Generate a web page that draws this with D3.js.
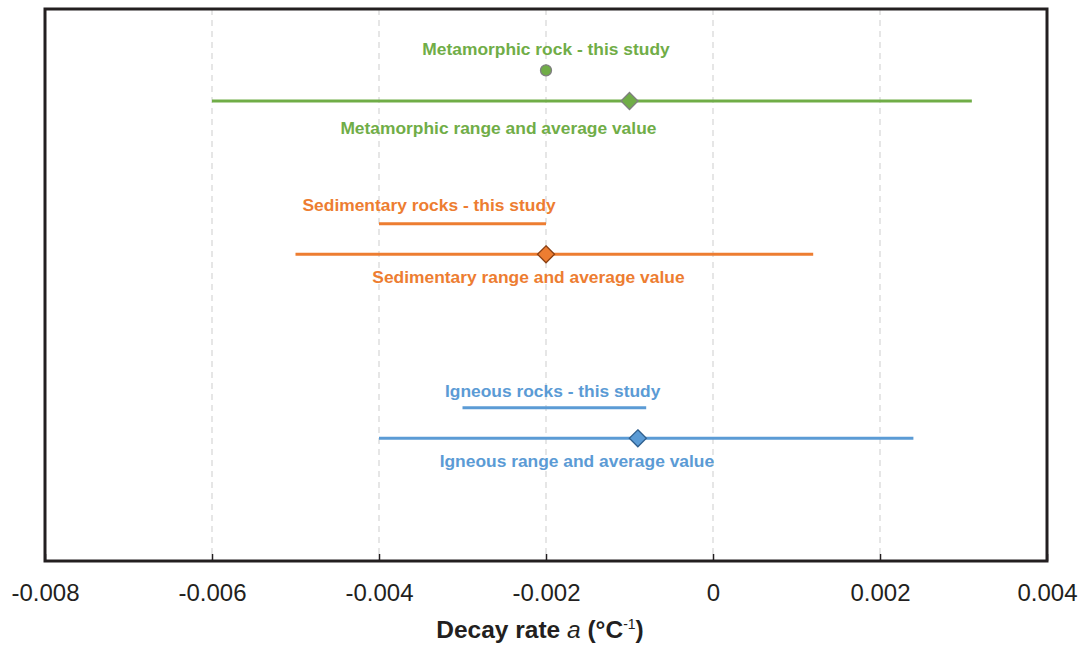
<!DOCTYPE html>
<html>
<head>
<meta charset="utf-8">
<script src="https://cdn.jsdelivr.net/npm/d3@7"></script>
<style>
  html, body { margin: 0; padding: 0; background: #fff; }
  svg { display: block; font-family: "Liberation Sans", Arial, sans-serif; }
</style>
</head>
<body>
<svg id="chart" width="1078" height="646"></svg>
<script>
// ---- data ----
const groups = ["Metamorphic", "Sedimentary", "Igneous"];
const colors = ["#70ad47", "#ed7d31", "#5b9bd5"];
const markerStroke = ["#7f7f7f", "#8a3f12", "#2f5f8e"];
// range of literature values (min, max) and average
const rangeMin = [-0.006, -0.005, -0.004];
const rangeMax = [0.0031, 0.0012, 0.0024];
const rangeAvg = [-0.001, -0.002, -0.0009];
const rangeRow = [7.5, 5, 2];
// this study (min, max); metamorphic is a single point
const studyMin = [-0.002, -0.004, -0.003];
const studyMax = [-0.002, -0.002, -0.0008];
const studyRow = [8, 5.5, 2.5];
// labels
const studyLabels = ["Metamorphic rock - this study", "Sedimentary rocks - this study", "Igneous rocks - this study"];
const studyLabelX = [-0.002, -0.0034, -0.00192];
const studyLabelY = [8.25, 5.7, 2.67];
const rangeLabels = ["Metamorphic range and average value", "Sedimentary range and average value", "Igneous range and average value"];
const rangeLabelX = [-0.00257, -0.00221, -0.00163];
const rangeLabelY = [6.965, 4.53, 1.535];
const xTicks = [-0.008, -0.006, -0.004, -0.002, 0, 0.002, 0.004];
const xTickLabels = ["-0.008", "-0.006", "-0.004", "-0.002", "0", "0.002", "0.004"];

// ---- layout ----
const mLeft = 45, mRight = 1047, mTop = 9, mBottom = 561;
const x = d3.scaleLinear().domain([-0.008, 0.004]).range([mLeft, mRight]);
const y = d3.scaleLinear().domain([0, 9]).range([mBottom, mTop]);

const svg = d3.select("#chart");

// gridlines
svg.append("g").selectAll("line")
  .data(xTicks.slice(1, -1))
  .join("line")
  .attr("x1", d => x(d)).attr("x2", d => x(d))
  .attr("y1", mTop).attr("y2", mBottom)
  .attr("stroke", "#d9d9d9").attr("stroke-width", 1.3)
  .attr("stroke-dasharray", "6,5");

// axis
const axis = d3.axisBottom(x).tickValues(xTicks)
  .tickFormat((d, i) => xTickLabels[i]).tickSizeInner(-7).tickSizeOuter(0).tickPadding(14);
const ag = svg.append("g").attr("transform", `translate(0,${mBottom})`).call(axis);
ag.select(".domain").remove();
ag.selectAll(".tick line").attr("stroke", "#231f20").attr("stroke-width", 1.5);
ag.selectAll(".tick text")
  .attr("font-size", 24).attr("fill", "#231f20")
  .attr("font-family", "'Liberation Sans', Arial, sans-serif")
  .attr("dy", null).attr("y", 40);

// frame
svg.append("rect")
  .attr("x", mLeft).attr("y", mTop)
  .attr("width", mRight - mLeft).attr("height", mBottom - mTop)
  .attr("fill", "none").attr("stroke", "#231f20").attr("stroke-width", 3);

// axis title
const title = svg.append("text")
  .attr("x", (mLeft + mRight) / 2 - 6).attr("y", 638)
  .attr("text-anchor", "middle").attr("font-size", 24.5).attr("font-weight", "bold").attr("fill", "#231f20");
title.append("tspan").text("Decay rate ");
title.append("tspan").text("a").attr("font-style", "italic").attr("font-weight", "normal");
title.append("tspan").text(" (°C");
title.append("tspan").text("-1").attr("font-size", 14).attr("font-weight", "normal").attr("dy", -9);
title.append("tspan").text(")").attr("dy", 9);

const idx = d3.range(groups.length);

// range lines
svg.append("g").selectAll("line")
  .data(idx).join("line")
  .attr("x1", i => x(rangeMin[i])).attr("x2", i => x(rangeMax[i]))
  .attr("y1", i => y(rangeRow[i])).attr("y2", i => y(rangeRow[i]))
  .attr("stroke", i => colors[i]).attr("stroke-width", 3);

// study lines (where min != max)
svg.append("g").selectAll("line")
  .data(idx.filter(i => studyMin[i] !== studyMax[i])).join("line")
  .attr("x1", i => x(studyMin[i])).attr("x2", i => x(studyMax[i]))
  .attr("y1", i => y(studyRow[i])).attr("y2", i => y(studyRow[i]))
  .attr("stroke", i => colors[i]).attr("stroke-width", 3);

// study point (single value)
svg.append("g").selectAll("circle")
  .data(idx.filter(i => studyMin[i] === studyMax[i])).join("circle")
  .attr("cx", i => x(studyMin[i])).attr("cy", i => y(studyRow[i]))
  .attr("r", 5.5)
  .attr("fill", i => colors[i]).attr("stroke", i => markerStroke[i]).attr("stroke-width", 1.3);

// average diamonds
const h = 8.5;
svg.append("g").selectAll("path")
  .data(idx).join("path")
  .attr("d", i => {
    const cx = x(rangeAvg[i]), cy = y(rangeRow[i]);
    return `M${cx},${cy - h}L${cx + h},${cy}L${cx},${cy + h}L${cx - h},${cy}Z`;
  })
  .attr("fill", i => colors[i]).attr("stroke", i => markerStroke[i]).attr("stroke-width", 1.3);

// labels
svg.append("g").selectAll("text")
  .data(idx).join("text")
  .attr("x", i => x(studyLabelX[i])).attr("y", i => y(studyLabelY[i]))
  .attr("text-anchor", "middle").attr("font-size", 17.4).attr("font-weight", "bold")
  .attr("fill", i => colors[i]).text(i => studyLabels[i]);
svg.append("g").selectAll("text")
  .data(idx).join("text")
  .attr("x", i => x(rangeLabelX[i])).attr("y", i => y(rangeLabelY[i]))
  .attr("text-anchor", "middle").attr("font-size", 17.4).attr("font-weight", "bold")
  .attr("fill", i => colors[i]).text(i => rangeLabels[i]);
</script>
</body>
</html>
